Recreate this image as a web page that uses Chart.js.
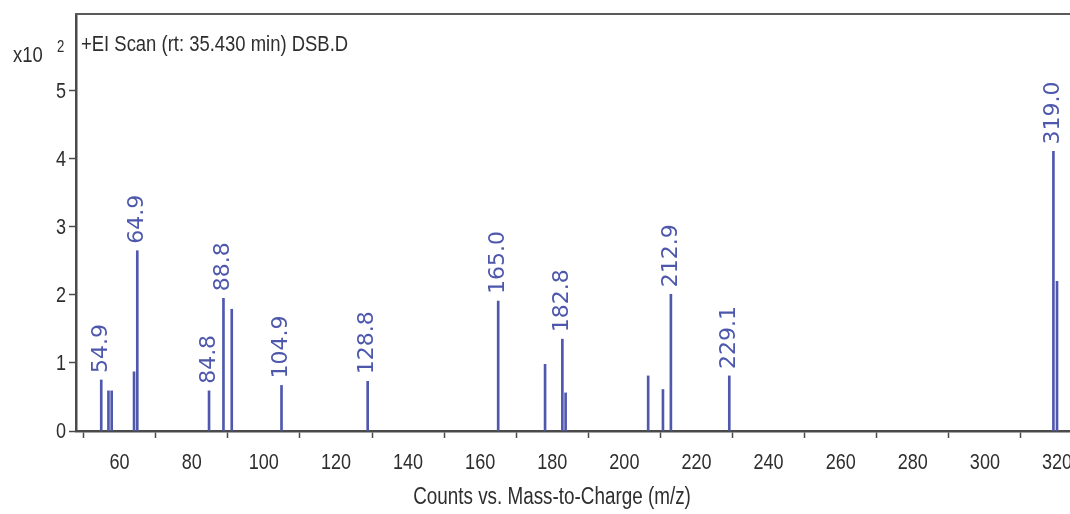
<!DOCTYPE html>
<html><head><meta charset="utf-8">
<script src="https://cdn.jsdelivr.net/npm/chart.js@4.4.1/dist/chart.umd.min.js"></script>
<style>html,body{margin:0;padding:0;background:#fff;overflow:hidden}#wrap{width:1070px;height:514px;position:relative}</style>
</head><body><div id="wrap"><canvas id="c" width="1070" height="514"></canvas></div>
<script>
// m/z values of the peaks
const mzValues = [54.9, 56.9, 57.8, 64.0, 64.9, 84.8, 88.8, 91.1, 104.9, 128.8, 165.0, 178.0, 182.8, 183.7, 206.6, 210.7, 212.9, 229.1, 319.0, 320.0];
// intensities (x10^2 counts)
const intensities = [0.75, 0.59, 0.59, 0.87, 2.65, 0.59, 1.95, 1.79, 0.67, 0.73, 1.91, 0.98, 1.35, 0.56, 0.81, 0.61, 2.01, 0.81, 4.11, 2.20];
// peak annotations ('' = none)
const peakLabels = ['54.9', '', '', '', '64.9', '84.8', '88.8', '', '104.9', '128.8', '165.0', '', '182.8', '', '', '', '212.9', '229.1', '319.0', ''];
const xTicks = [60, 80, 100, 120, 140, 160, 180, 200, 220, 240, 260, 280, 300, 320];
const yTicks = [0, 1, 2, 3, 4, 5];
const titleText = '+EI Scan (rt: 35.430 min) DSB.D';
const xAxisTitle = 'Counts vs. Mass-to-Charge (m/z)';
const yMultiplier = 'x10';
const yExponent = '2';

const SANS = '"Liberation Sans", Arial, sans-serif';
const SQUEEZE = 0.82;
const BAR = '#5058ae';
const TXT = '#2e2e2e';
const AXIS = '#4a4a4a';

function narrowText(ctx, text, x, y, size, align, baseline) {
  ctx.save();
  ctx.translate(x, y);
  ctx.scale(SQUEEZE, 1);
  ctx.font = size + 'px ' + SANS;
  ctx.textAlign = align;
  ctx.textBaseline = baseline;
  ctx.fillText(text, 0, 0);
  ctx.restore();
}

const overlay = {
  id: 'overlay',
  afterDraw(chart) {
    const ctx = chart.ctx;
    const a = chart.chartArea;
    ctx.save();
    // top frame line
    ctx.strokeStyle = '#5a5a5a';
    ctx.lineWidth = 2;
    ctx.beginPath();
    ctx.moveTo(a.left - 1, a.top);
    ctx.lineTo(a.right, a.top);
    ctx.stroke();
    ctx.fillStyle = TXT;
    // title
    narrowText(ctx, titleText, a.left + 5, 45, 22.5, 'left', 'middle');
    // y multiplier
    narrowText(ctx, yMultiplier, 13, 56, 22.5, 'left', 'middle');
    narrowText(ctx, yExponent, 57, 48, 16, 'left', 'middle');
    // x axis title
    narrowText(ctx, xAxisTitle, 552, 498, 23, 'center', 'middle');
    // tick labels
    const xs = chart.scales.x, ys = chart.scales.y;
    xs.ticks.forEach(t => {
      narrowText(ctx, String(t.value), xs.getPixelForValue(t.value), 469, 22, 'center', 'alphabetic');
    });
    ys.ticks.forEach(t => {
      narrowText(ctx, String(t.value), 66, ys.getPixelForValue(t.value) + 1, 22, 'right', 'middle');
    });
    // peak labels
    const meta = chart.getDatasetMeta(0);
    ctx.fillStyle = '#4d57ab';
    ctx.font = '22px "DejaVu Sans", Verdana, sans-serif';
    ctx.textAlign = 'left';
    ctx.textBaseline = 'middle';
    meta.data.forEach((el, i) => {
      const lbl = peakLabels[i];
      if (!lbl) return;
      ctx.save();
      ctx.translate(el.x, el.y - 7);
      ctx.rotate(-Math.PI / 2);
      ctx.fillText(lbl, 0, 0);
      ctx.restore();
    });
    ctx.restore();
  }
};

new Chart(document.getElementById('c'), {
  type: 'bar',
  data: {
    datasets: [{
      data: mzValues.map((x, i) => ({ x: x, y: intensities[i] })),
      backgroundColor: BAR,
      borderWidth: 0,
      barThickness: 2
    }]
  },
  options: {
    responsive: false,
    animation: false,
    layout: { padding: { top: 14, left: 0, right: 0, bottom: 0 } },
    plugins: { legend: { display: false }, tooltip: { enabled: false }, title: { display: false } },
    scales: {
      x: {
        type: 'linear',
        min: 47.9,
        max: 323.6,
        offset: false,
        afterBuildTicks(s) { s.ticks = xTicks.map(v => ({ value: v })); },
        afterFit(s) { s.height = 83; s.paddingLeft = 0; s.paddingRight = 0; },
        grid: { display: true, drawOnChartArea: false, drawTicks: true, tickLength: 7, tickWidth: 1.5, tickColor: AXIS },
        border: { display: true, color: AXIS, width: 2.5 },
        ticks: { color: 'rgba(0,0,0,0)', font: { size: 22, family: SANS }, padding: 8, maxRotation: 0, autoSkip: false }
      },
      y: {
        type: 'linear',
        min: 0,
        max: 6.13,
        afterBuildTicks(s) { s.ticks = yTicks.map(v => ({ value: v })); },
        afterFit(s) { s.width = 76; s.paddingTop = 0; s.paddingBottom = 0; },
        grid: { display: true, drawOnChartArea: false, drawTicks: true, tickLength: 7, tickWidth: 1.5, tickColor: AXIS },
        border: { display: true, color: AXIS, width: 2.5 },
        ticks: { color: 'rgba(0,0,0,0)', font: { size: 22, family: SANS }, padding: 3, autoSkip: false }
      }
    }
  },
  plugins: [overlay]
});
</script></body></html>
